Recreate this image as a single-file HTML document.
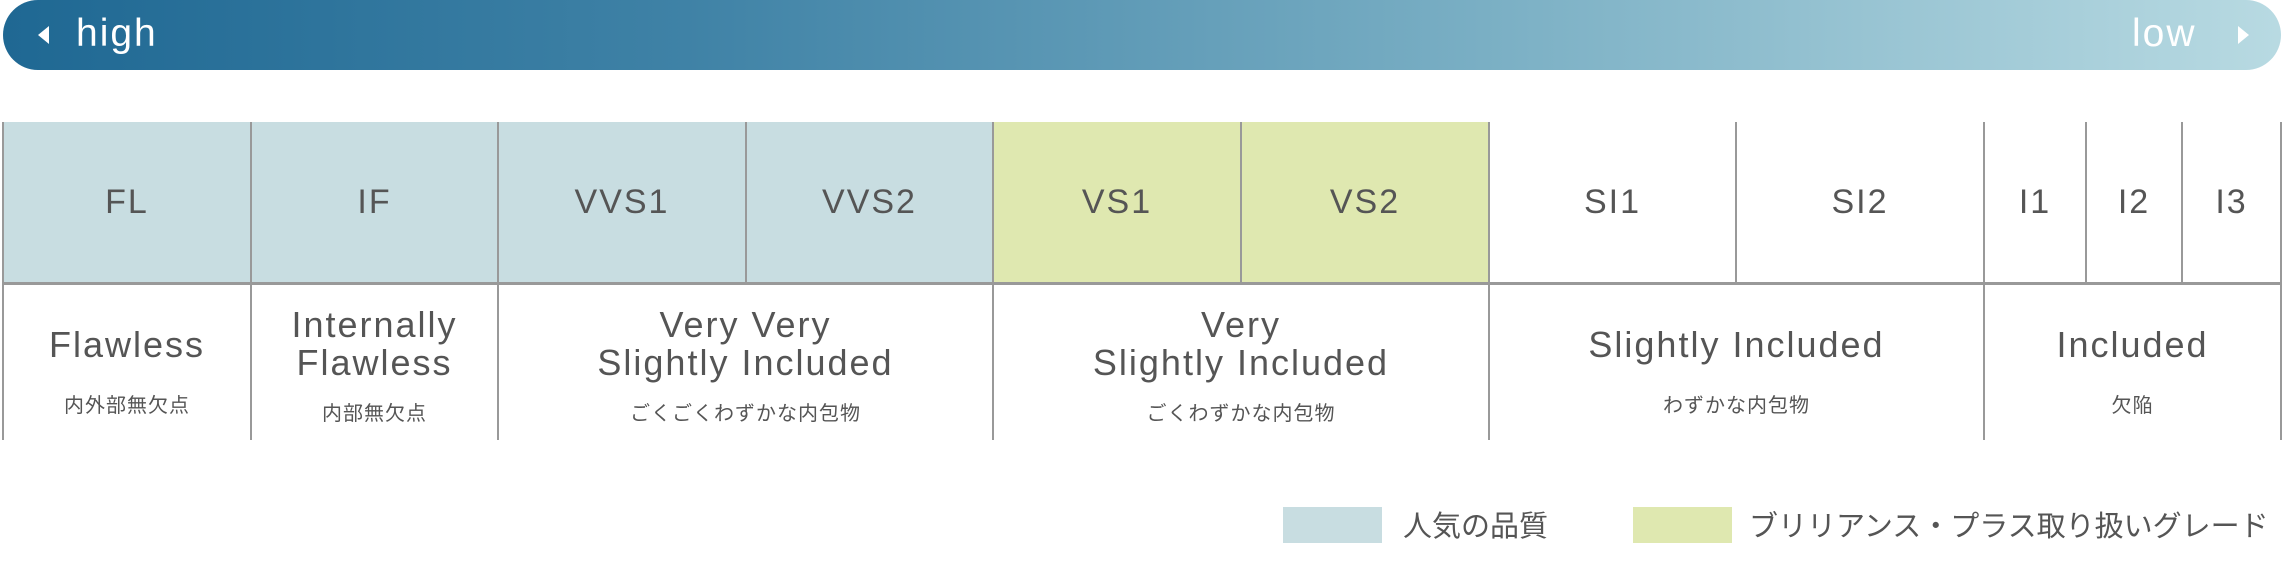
<!DOCTYPE html>
<html><head><meta charset="utf-8"><style>
body{margin:0;width:2284px;height:580px;background:#fff;position:relative;overflow:hidden;font-family:"Liberation Sans","Noto Sans CJK JP",sans-serif;color:#555}
.bar{position:absolute;left:3px;top:0;width:2278px;height:70px;border-radius:35px;background:linear-gradient(90deg,#1f6893 0%,#3f82a6 30%,#7aafc4 65%,#b8dae2 100%)}
.bt{position:absolute;top:12px;color:#fff;font-size:39px;letter-spacing:2px}
.tri{position:absolute;top:26px;width:0;height:0;border-top:9px solid transparent;border-bottom:9px solid transparent}
.c{position:absolute;box-sizing:border-box;display:flex;align-items:center;justify-content:center;text-align:center;flex-direction:column}
.g{top:122px;height:161px;font-size:34px;letter-spacing:2px}
.d{top:283px;height:157px;font-size:36px;letter-spacing:2px;line-height:38px}
.d small{display:block;font-size:20px;letter-spacing:1px;margin-top:24px;line-height:24px}
.tw{margin-top:8px}
.vl{position:absolute;width:2px;background:#999}
.hl{position:absolute;height:3px;background:#999;left:3px;width:2278px;top:282px}
.lg{position:absolute;top:507px;width:99px;height:36px}
.lt{position:absolute;top:503px;font-size:29px;color:#555}
</style></head><body>
<div class="bar"></div>
<div class="tri" style="left:38px;border-right:11px solid #fff"></div>
<div class="bt" style="left:76px">high</div>
<div class="bt" style="left:2132px">low</div>
<div class="tri" style="left:2238px;border-left:11px solid #fff"></div>

<div style="position:absolute;left:3px;top:122px;width:990px;height:161px;background:#c8dde1"></div>
<div style="position:absolute;left:993px;top:122px;width:496px;height:161px;background:#dfe8b0"></div>

<div class="c g" style="left:3px;width:248px">FL</div>
<div class="c g" style="left:251px;width:247px">IF</div>
<div class="c g" style="left:498px;width:248px">VVS1</div>
<div class="c g" style="left:746px;width:247px">VVS2</div>
<div class="c g" style="left:993px;width:248px">VS1</div>
<div class="c g" style="left:1241px;width:248px">VS2</div>
<div class="c g" style="left:1489px;width:247px">SI1</div>
<div class="c g" style="left:1736px;width:248px">SI2</div>
<div class="c g" style="left:1984px;width:102px">I1</div>
<div class="c g" style="left:2086px;width:96px">I2</div>
<div class="c g" style="left:2182px;width:99px">I3</div>

<div class="c d" style="left:3px;width:248px"><div style="margin-top:20px">Flawless</div><small style="margin-top:30px">内外部無欠点</small></div>
<div class="c d" style="left:251px;width:247px"><div class="tw">Internally<br>Flawless</div><small style="margin-top:20px">内部無欠点</small></div>
<div class="c d" style="left:498px;width:495px"><div class="tw">Very Very<br>Slightly Included</div><small style="margin-top:20px">ごくごくわずかな内包物</small></div>
<div class="c d" style="left:993px;width:496px"><div class="tw">Very<br>Slightly Included</div><small style="margin-top:20px">ごくわずかな内包物</small></div>
<div class="c d" style="left:1489px;width:495px"><div style="margin-top:20px">Slightly Included</div><small style="margin-top:30px">わずかな内包物</small></div>
<div class="c d" style="left:1984px;width:297px"><div style="margin-top:20px">Included</div><small style="margin-top:30px">欠陥</small></div>

<div class="hl"></div>
<div class="vl" style="left:2px;top:122px;height:318px"></div>
<div class="vl" style="left:250px;top:122px;height:318px"></div>
<div class="vl" style="left:497px;top:122px;height:318px"></div>
<div class="vl" style="left:745px;top:122px;height:161px"></div>
<div class="vl" style="left:992px;top:122px;height:318px"></div>
<div class="vl" style="left:1240px;top:122px;height:161px"></div>
<div class="vl" style="left:1488px;top:122px;height:318px"></div>
<div class="vl" style="left:1735px;top:122px;height:161px"></div>
<div class="vl" style="left:1983px;top:122px;height:318px"></div>
<div class="vl" style="left:2085px;top:122px;height:161px"></div>
<div class="vl" style="left:2181px;top:122px;height:161px"></div>
<div class="vl" style="left:2280px;top:122px;height:318px"></div>

<div class="lg" style="left:1283px;background:#c8dde1"></div>
<div class="lt" style="left:1403px">人気の品質</div>
<div class="lg" style="left:1633px;background:#dfe8b0"></div>
<div class="lt" style="left:1749px;letter-spacing:0px">ブリリアンス・プラス取り扱いグレード</div>
</body></html>
